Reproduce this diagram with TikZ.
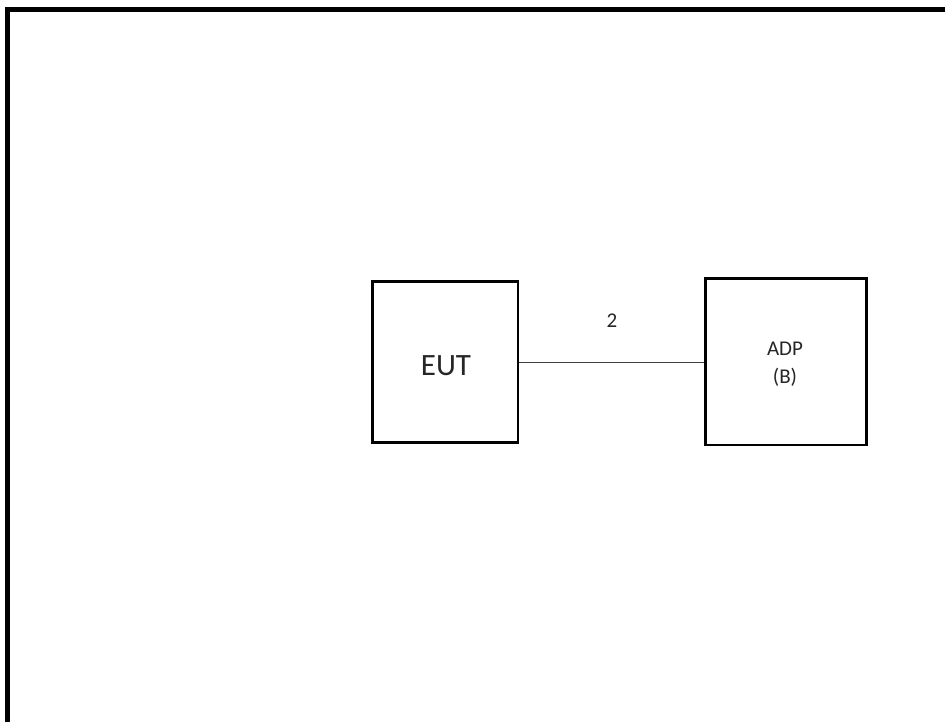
\documentclass[tikz,border=0pt]{standalone}
\usepackage{fontspec}
\setmainfont{Carlito}
\begin{document}
\begin{tikzpicture}[x=1pt,y=-1pt,
  blockbox/.style={draw=black,line width=2.6pt,fill=white,inner sep=0pt},
  frameline/.style={draw=black,line width=5pt},
  wire/.style={draw=black!75,line width=1.1pt},
  lbl/.style={text=black!85,inner sep=0pt}]
\useasboundingbox (0,0) rectangle (945,722);
\fill[white] (0,0) rectangle (945,722);
\coordinate (ftl) at (7.5,9.5);
\coordinate (ftr) at (945,9.5);
\coordinate (fbl) at (7.5,722);
\draw[frameline,line cap=rect] (ftr) -- (ftl) -- (fbl);
\node[blockbox,minimum width=145.3pt,minimum height=161pt] (eut) at (445.3,362.2) {};
\node[lbl,font=\fontsize{31}{31}\selectfont] (eutt) at (446,366) {EUT};
\node[blockbox,minimum width=161pt,minimum height=166.7pt] (adp) at (786.2,361.6) {};
\node[lbl,font=\fontsize{21}{21}\selectfont] (adpt) at (785,348.5) {ADP};
\node[lbl,font=\fontsize{21}{21}\selectfont] (adpb) at (785,377) {(B)};
\draw[wire] (eut.east |- 0,362.7) -- (adp.west |- 0,362.7);
\node[lbl,font=\fontsize{21}{21}\selectfont] (num) at (612,320.5) {2};
\end{tikzpicture}
\end{document}
